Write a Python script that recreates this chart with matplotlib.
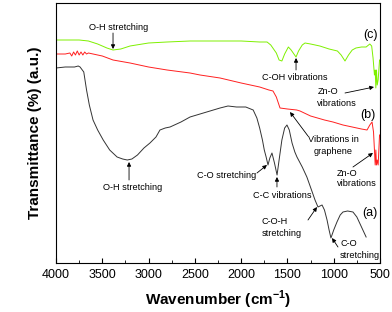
import matplotlib
matplotlib.use("Agg")
import matplotlib.pyplot as plt
from matplotlib.ticker import MultipleLocator

plt.rcParams['font.family'] = ['Liberation Sans', 'DejaVu Sans']
plt.rcParams['mathtext.fontset'] = 'custom'
plt.rcParams['mathtext.rm'] = 'Liberation Sans'
plt.rcParams['mathtext.bf'] = 'Liberation Sans:bold'

# ---- data (wavenumber cm^-1, transmittance in arbitrary units) ----
wn_c = [4000, 3750, 3650, 3550, 3450, 3384, 3300, 3200, 3000, 2800, 2552, 2200, 2000,
        1800, 1720, 1680, 1620, 1590, 1560, 1530, 1490, 1460, 1430, 1407, 1380, 1340,
        1310, 1250, 1150, 1050, 960, 920, 878, 840, 800, 760, 700, 650, 610, 590, 575,
        560, 552, 545, 538, 530, 520, 505]
tr_c = [223, 223, 222, 219, 215, 213, 214, 217, 220, 221, 222, 222, 222,
        221, 221, 218, 210, 203, 202, 209, 216, 213, 209, 206, 212, 218,
        220, 219, 217, 214, 212, 208, 202, 208, 213, 215, 216, 216, 219, 217, 205,
        188, 193, 175, 193, 178, 183, 203]

wn_b = [4000, 3900, 3850, 3830, 3810, 3790, 3770, 3750, 3730, 3710, 3690, 3670, 3650,
        3600, 3500, 3384, 3200, 3000, 2800, 2552, 2444, 2228, 2000, 1800, 1700, 1656,
        1620, 1580, 1500, 1400, 1364, 1250, 1100, 1008, 900, 800, 700, 640, 610, 586,
        570, 560, 552, 545, 538, 530, 520, 505]
tr_b = [209, 209, 210, 207, 211, 208, 212, 208, 211, 208, 211, 209, 210,
        209, 207, 203, 200, 196, 193, 190, 188, 185, 180, 176, 173, 172,
        166, 155, 154, 153, 152, 147, 143, 141, 138, 136, 134, 133, 138, 141,
        131, 113, 98, 113, 98, 103, 98, 128]

wn_a = [4000, 3900, 3800, 3760, 3740, 3700, 3670, 3640, 3600, 3550, 3490, 3420, 3340,
        3280, 3230, 3180, 3120, 3050, 2985, 2920, 2877, 2820, 2768, 2650, 2552, 2444,
        2300, 2228, 2142, 2050, 1950, 1870, 1830, 1800, 1770, 1750, 1730, 1710, 1690,
        1667, 1640, 1612, 1590, 1560, 1530, 1505, 1480, 1450, 1420, 1397, 1340, 1290,
        1240, 1202, 1170, 1126, 1100, 1072, 1050, 1030, 1000, 965, 930, 900, 850, 792,
        750, 700, 650]
tr_a = [195, 196, 196, 197, 196, 191, 173, 158, 143, 133, 123, 113, 106,
        104, 103, 104, 108, 115, 120, 126, 133, 135, 136, 141, 146, 149,
        153, 155, 157, 156, 156, 153, 145, 135, 123, 113, 106, 98, 105,
        110, 100, 88, 103, 123, 135, 138, 133, 120, 111, 106, 96, 86,
        73, 63, 56, 58, 53, 43, 33, 25, 33, 41, 48, 51, 52, 51,
        46, 36, 26]

curve_labels = ['(c)', '(b)', '(a)']
xticks = [4000, 3500, 3000, 2500, 2000, 1500, 1000, 500]

fig = plt.figure(figsize=(3.92, 3.12), dpi=100)
ax = fig.add_axes([56/392, 1-263/312, 324/392, 260/312])

ax.plot(wn_c, tr_c, color='#7EF000', lw=0.7)
ax.plot(wn_b, tr_b, color='#FF2020', lw=0.7)
ax.plot(wn_a, tr_a, color='#333333', lw=0.7)

ax.set_xlim(4000, 500)
ax.set_ylim(0, 260)
ax.set_xticks(xticks)
ax.xaxis.set_minor_locator(MultipleLocator(250))
ax.tick_params(axis='x', which='major', direction='in', length=3.5, width=0.8,
               labelsize=9, pad=4)
ax.tick_params(axis='x', which='minor', direction='in', length=2, width=0.6)
ax.set_yticks([])
for s in ax.spines.values():
    s.set_linewidth(0.8)

ax.set_xlabel(r'Wavenumber (cm$^{\mathbf{-1}}$)', fontsize=11, fontweight='bold', labelpad=6)
ax.set_ylabel('Transmittance (%) (a.u.)', fontsize=11, fontweight='bold', labelpad=10)

fs = 6.6
ap = dict(arrowstyle='-|>', lw=0.6, color='black', mutation_scale=6,
          shrinkA=0, shrinkB=0)

# curve labels
ax.text(608, 228, curve_labels[0], fontsize=9, ha='center', va='center')
ax.text(630, 148, curve_labels[1], fontsize=9, ha='center', va='center')
ax.text(608, 50, curve_labels[2], fontsize=9, ha='center', va='center')

# annotations
ax.text(3319, 236, 'O-H stretching', fontsize=fs, ha='center', va='center')
ax.annotate('', xy=(3384, 214), xytext=(3384, 230), arrowprops=ap)

ax.text(1418, 186, 'C-OH vibrations', fontsize=fs, ha='center', va='center')
ax.annotate('', xy=(1407, 205), xytext=(1407, 193), arrowprops=ap)

ax.text(1062, 172, 'Zn-O', fontsize=fs, ha='center', va='center')
ax.text(965, 160, 'vibrations', fontsize=fs, ha='center', va='center')
ax.annotate('', xy=(565, 176), xytext=(878, 170), arrowprops=ap)

ax.text(1008, 123, 'Vibrations in', fontsize=fs, ha='center', va='center')
ax.text(1008, 111, 'graphene', fontsize=fs, ha='center', va='center')
ax.annotate('', xy=(1472, 151), xytext=(1278, 127), arrowprops=ap)

ax.text(856, 90, 'Zn-O', fontsize=fs, ha='center', va='center')
ax.text(748, 80, 'vibrations', fontsize=fs, ha='center', va='center')
ax.annotate('', xy=(576, 110), xytext=(792, 96), arrowprops=ap)

ax.text(3168, 76, 'O-H stretching', fontsize=fs, ha='center', va='center')
ax.annotate('', xy=(3211, 101), xytext=(3211, 83), arrowprops=ap)

ax.text(2153, 88, 'C-O stretching', fontsize=fs, ha='center', va='center')
ax.annotate('', xy=(1721, 98), xytext=(1829, 90), arrowprops=ap)

ax.text(1559, 68, 'C-C vibrations', fontsize=fs, ha='center', va='center')
ax.annotate('', xy=(1613, 86), xytext=(1613, 76), arrowprops=ap)

ax.text(1781, 41, 'C-O-H', fontsize=fs, ha='left', va='center')
ax.text(1781, 30, 'stretching', fontsize=fs, ha='left', va='center')
ax.annotate('', xy=(1181, 56), xytext=(1278, 43), arrowprops=ap)

ax.text(932, 20, 'C-O', fontsize=fs, ha='left', va='center')
ax.text(932, 8, 'stretching', fontsize=fs, ha='left', va='center')
ax.annotate('', xy=(1018, 25), xytext=(954, 16), arrowprops=ap)

fig.savefig('out.png', dpi=100)
